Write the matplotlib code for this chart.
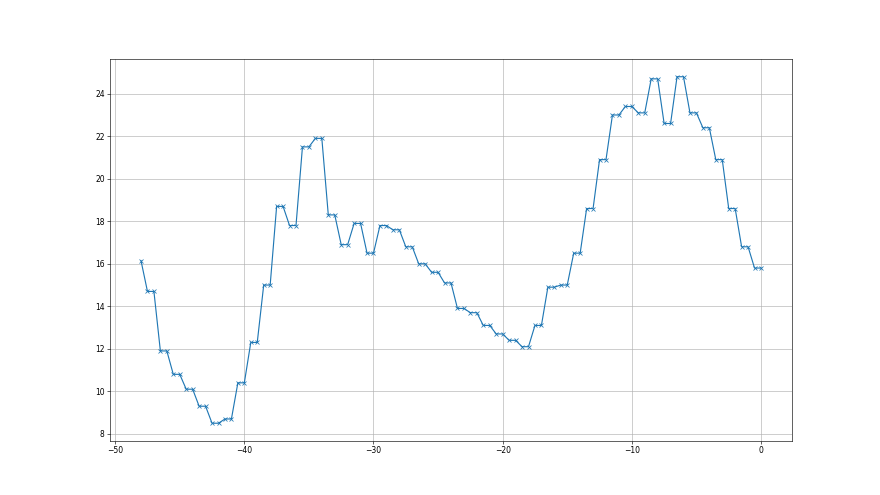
import numpy as np
import matplotlib
matplotlib.use("Agg")
import matplotlib.pyplot as plt

# first sample on its own, then each hour appears twice (k-0.5 and k)
first_x = -48
first_y = 16.15
hours = list(range(-47, 1))
hour_vals = [14.7, 11.9, 10.8, 10.1, 9.3, 8.5, 8.7, 10.4, 12.3, 15.0,
             18.7, 17.8, 21.5, 21.9, 18.3, 16.9, 17.9, 16.5, 17.8, 17.6,
             16.8, 16.0, 15.6, 15.1, 13.9, 13.7, 13.1, 12.7, 12.4, 12.1,
             13.1, 14.9, 15.0, 16.5, 18.6, 20.9, 23.0, 23.4, 23.1, 24.7,
             22.6, 24.8, 23.1, 22.4, 20.9, 18.6, 16.8, 15.8]

xs = [first_x]
ys = [first_y]
for k, v in zip(hours, hour_vals):
    xs += [k - 0.5, k]
    ys += [v, v]

fig, ax = plt.subplots(figsize=(16, 9), dpi=55)
ax.plot(xs, ys, marker='x')
ax.grid(True)
fig.savefig("out.png")
